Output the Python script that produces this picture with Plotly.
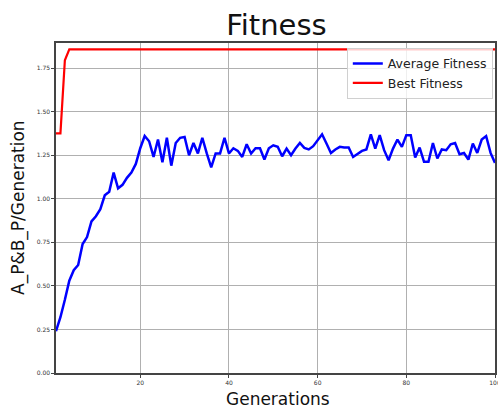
import plotly.graph_objects as go

generations = list(range(1, 101))
average_fitness = [
    0.24, 0.32, 0.42, 0.53, 0.59, 0.62, 0.74, 0.78, 0.87, 0.90,
    0.94, 1.02, 1.04, 1.15, 1.06, 1.08, 1.12, 1.15, 1.20, 1.29,
    1.36, 1.33, 1.24, 1.34, 1.21, 1.35, 1.19, 1.32, 1.35, 1.355,
    1.25, 1.32, 1.26, 1.35, 1.26, 1.18, 1.26, 1.26, 1.35, 1.26,
    1.29, 1.275, 1.24, 1.313, 1.26, 1.29, 1.29, 1.225, 1.29, 1.307,
    1.298, 1.244, 1.288, 1.25, 1.288, 1.32, 1.292, 1.283, 1.302, 1.336,
    1.37, 1.317, 1.263, 1.283, 1.298, 1.294, 1.294, 1.24, 1.256, 1.275,
    1.283, 1.37, 1.288, 1.365, 1.279, 1.221, 1.288, 1.34, 1.298, 1.365,
    1.365, 1.237, 1.294, 1.212, 1.212, 1.32, 1.231, 1.283, 1.279, 1.313,
    1.32, 1.256, 1.263, 1.225, 1.317, 1.263, 1.34, 1.36, 1.263, 1.206,
]
best_fitness = [1.375, 1.375, 1.795] + [1.857] * 97

y_ticks = [0.0, 0.25, 0.5, 0.75, 1.0, 1.25, 1.5, 1.75]
x_ticks = [20, 40, 60, 80, 100]

FONT = "DejaVu Sans"

fig = go.Figure()
fig.add_trace(go.Scatter(x=generations, y=average_fitness, mode="lines",
                         name="Average Fitness",
                         line=dict(color="#0000ff", width=2.5)))
fig.add_trace(go.Scatter(x=generations, y=best_fitness, mode="lines",
                         name="Best Fitness",
                         line=dict(color="#ff0000", width=2.2)))

fig.update_layout(
    width=498, height=410,
    margin=dict(l=56, r=3, t=43, b=37, autoexpand=False),
    paper_bgcolor="white", plot_bgcolor="white",
    font=dict(family=FONT, color="#222"),
    title=dict(text="Fitness", x=0.555, xanchor="center",
               y=1 - 25 / 410, yref="container", yanchor="middle",
               font=dict(size=29, family=FONT, color="#111")),
    showlegend=True,
    legend=dict(x=0.995, y=0.985, xanchor="right", yanchor="top",
                bgcolor="rgba(255,255,255,0.8)", bordercolor="#d0d0d0",
                borderwidth=1, font=dict(size=12.5, family=FONT, color="#222"),
                tracegroupgap=0),
    xaxis=dict(range=[1, 100], tickvals=x_ticks, ticktext=[str(v) for v in x_ticks],
               showgrid=True, gridcolor="#b0b0b0", gridwidth=1,
               showline=True, linecolor="#444", linewidth=1.5, mirror=True,
               ticks="outside", ticklen=3, tickcolor="#444",
               tickfont=dict(size=6, family=FONT, color="#333"),
               ticklabeloverflow="allow", automargin=False,
               zeroline=False),
    yaxis=dict(range=[0, 1.894], tickvals=y_ticks, tickformat=".2f",
               showgrid=True, gridcolor="#b0b0b0", gridwidth=1,
               showline=True, linecolor="#444", linewidth=1.5, mirror=True,
               ticks="outside", ticklen=3, tickcolor="#444",
               tickfont=dict(size=6, family=FONT, color="#333"),
               automargin=False,
               zeroline=False),
    annotations=[
        dict(text="Generations", xref="paper", yref="paper",
             x=0.505, y=-26 / 330, xanchor="center", yanchor="middle",
             showarrow=False, font=dict(size=17, family=FONT, color="#111")),
        dict(text="A_P&B_P/Generation", xref="paper", yref="paper",
             x=-38 / 439, y=0.5, xanchor="center", yanchor="middle",
             textangle=-90, showarrow=False,
             font=dict(size=17, family=FONT, color="#111")),
    ],
)

fig.write_html("out.html", config={"displayModeBar": False},
               post_script="document.body.style.margin='0';document.body.style.padding='0';")
